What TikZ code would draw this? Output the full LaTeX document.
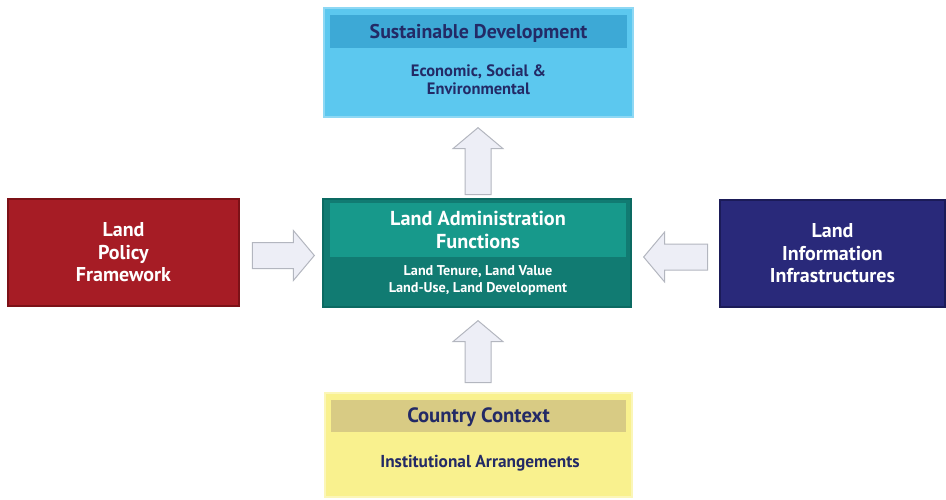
\documentclass[tikz,border=0pt]{standalone}
\usepackage{fontspec}
\setmainfont{PT Sans}
\usetikzlibrary{shapes.arrows}
\definecolor{skyfill}{HTML}{5CC8EF}
\definecolor{skyband}{HTML}{3DA9D6}
\definecolor{skyline}{HTML}{8ED8F4}
\definecolor{tealdark}{HTML}{117B72}
\definecolor{teallight}{HTML}{17998B}
\definecolor{tealline}{HTML}{0C6A62}
\definecolor{yelfill}{HTML}{F9F18E}
\definecolor{yelband}{HTML}{D8CB84}
\definecolor{yelline}{HTML}{FBF6B8}
\definecolor{redfill}{HTML}{A61C25}
\definecolor{redline}{HTML}{7C1117}
\definecolor{navyfill}{HTML}{29297A}
\definecolor{navyline}{HTML}{1B1B58}
\definecolor{inkblue}{HTML}{232A66}
\definecolor{arrfill}{HTML}{EDEEF6}
\definecolor{arrline}{HTML}{B3B6BF}
\tikzset{
  box/.style={rectangle, inner sep=0pt, line width=1.2pt},
  band/.style={rectangle, inner sep=0pt, draw=none},
  sidetxt/.style={font=\bfseries\fontsize{20}{22.5}\selectfont, align=center},
  blockarrow/.style={single arrow, draw=arrline, fill=arrfill, line width=1pt,
    inner sep=12.5pt, single arrow head extend=12pt,
    single arrow head indent=0pt, single arrow tip angle=100, anchor=tip},
}
\begin{document}
\begin{tikzpicture}[x=1pt,y=-1pt]
\useasboundingbox (0,0) rectangle (946,499);
% top box
\node[box, draw=skyline, fill=skyfill, minimum width=309pt, minimum height=109pt] (sd) at (478.5,62.5) {};
\node[band, fill=skyband, minimum width=297pt, minimum height=33pt] (sdh) at (478.5,31.5) {};
\node[font=\bfseries\fontsize{19.9}{22}\selectfont, text=inkblue] (sdt) at (478.5,33) {Sustainable Development};
\node[font=\bfseries\fontsize{16.5}{17.5}\selectfont, align=center, text=inkblue] (sds) at (478.5,79.5) {Economic, Social \&\\Environmental};
% center box
\node[box, draw=tealline, fill=tealdark, minimum width=308pt, minimum height=108pt] (la) at (477,253) {};
\node[band, fill=teallight, minimum width=296pt, minimum height=54pt] (lah) at (478,230) {};
\node[font=\bfseries\fontsize{20.2}{23}\selectfont, align=center, text=white] (lat) at (478,229.5) {Land Administration\\Functions};
\node[font=\bfseries\fontsize{14.2}{17}\selectfont, align=center, text=white] (las) at (478,280.5) {Land Tenure, Land Value\\Land-Use, Land Development};
% bottom box
\node[box, draw=yelline, fill=yelfill, minimum width=307pt, minimum height=104pt] (cc) at (478.5,445) {};
\node[band, fill=yelband, minimum width=295pt, minimum height=32pt] (cch) at (478.5,416) {};
\node[font=\bfseries\fontsize{20.7}{22}\selectfont, text=inkblue] (cct) at (478.5,417) {Country Context};
\node[font=\bfseries\fontsize{17.3}{19}\selectfont, text=inkblue] (ccs) at (480,463) {Institutional Arrangements};
% left box
\node[box, draw=redline, fill=redfill, minimum width=231pt, minimum height=107pt, sidetxt, text=white] (lp) at (123.5,252.5) {Land\\Policy\\Framework};
% right box
\node[box, draw=navyline, fill=navyfill, minimum width=225pt, minimum height=107pt, sidetxt, text=white] (li) at (832.5,253.5) {Land\\Information\\Infrastructures};
% arrows
\node[blockarrow, minimum height=67pt, shape border rotate=90] (a1) at (478,127) {};
\node[blockarrow, minimum height=62pt, shape border rotate=90] (a2) at (478,320) {};
\node[blockarrow, minimum height=62pt, shape border rotate=0] (a3) at (315,255.5) {};
\node[blockarrow, minimum height=64pt, shape border rotate=180] (a4) at (643,257) {};
\end{tikzpicture}
\end{document}
